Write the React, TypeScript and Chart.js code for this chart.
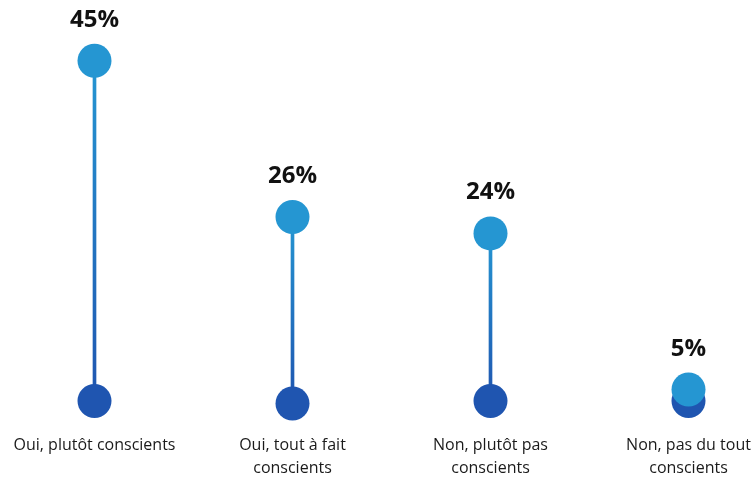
import React, { useEffect, useRef } from "react";
import { Chart, registerables } from "chart.js";

Chart.register(...registerables);

const categories: string[][] = [
  ["Oui, plutôt conscients"],
  ["Oui, tout à fait", "conscients"],
  ["Non, plutôt pas", "conscients"],
  ["Non, pas du tout", "conscients"],
];
const topValues: number[] = [45, 26, 24, 5];
const baseValues: number[] = [3.6, 3.3, 3.6, 3.6];
const valueLabels: string[] = ["45%", "26%", "24%", "5%"];

const LIGHT = "#2596D2";
const DARK = "#1F55B0";
const FONT = "'Open Sans', sans-serif";

export default function App() {
  const ref = useRef<HTMLCanvasElement | null>(null);

  useEffect(() => {
    if (!ref.current) return;

    const labelPlugin = {
      id: "valueLabels",
      afterDatasetsDraw(chart: any) {
        const meta = chart.getDatasetMeta(0);
        const ctx = chart.ctx;
        ctx.save();
        ctx.font = `bold 24px ${FONT}`;
        ctx.fillStyle = "#111111";
        ctx.textAlign = "center";
        ctx.textBaseline = "alphabetic";
        meta.data.forEach((el: any, i: number) => {
          ctx.fillText(valueLabels[i], el.x, el.y - 34);
        });
        ctx.restore();
      },
    };

    const stickColor = (c: any) => {
      const chart = c.chart;
      const y = chart.scales?.y;
      if (!y || c.dataIndex === undefined || !chart.chartArea) return LIGHT;
      const y0 = y.getPixelForValue(topValues[c.dataIndex]);
      const y1 = y.getPixelForValue(baseValues[c.dataIndex]);
      if (!isFinite(y0) || !isFinite(y1) || y0 === y1) return LIGHT;
      const g = chart.ctx.createLinearGradient(0, y0, 0, y1);
      g.addColorStop(0, LIGHT);
      g.addColorStop(1, DARK);
      return g;
    };

    const chart = new Chart(ref.current, {
      type: "bar",
      data: {
        labels: categories as any,
        datasets: [
          {
            type: "line",
            data: topValues,
            showLine: false,
            clip: false,
            pointRadius: 17,
            pointHoverRadius: 17,
            pointBackgroundColor: LIGHT,
            pointBorderWidth: 0,
            borderColor: LIGHT,
          } as any,
          {
            type: "line",
            data: baseValues,
            showLine: false,
            clip: false,
            pointRadius: 17,
            pointHoverRadius: 17,
            pointBackgroundColor: DARK,
            pointBorderWidth: 0,
            borderColor: DARK,
          } as any,
          {
            type: "bar",
            data: topValues.map((v, i) => [baseValues[i], v]) as any,
            backgroundColor: stickColor,
            barThickness: 3,
            borderWidth: 0,
            clip: false,
          } as any,
        ],
      },
      options: {
        responsive: false,
        animation: false,
        layout: { autoPadding: false, padding: { left: 94.5, right: 67.5, top: 0, bottom: 0 } },
        plugins: {
          legend: { display: false },
          tooltip: { enabled: false },
        },
        scales: {
          x: {
            offset: false,
            grid: { display: false, drawTicks: false },
            border: { display: false },
            ticks: {
              color: "#1a1a1a",
              font: { family: FONT, size: 16, lineHeight: 1.45 },
              padding: 3,
              maxRotation: 0,
              autoSkip: false,
            },
          },
          y: {
            display: false,
            min: 0,
            max: 52.4,
          },
        },
      },
      plugins: [labelPlugin],
    });

    return () => chart.destroy();
  }, []);

  return (
    <div style={{ position: "fixed", left: 0, top: 0, width: 756, height: 478, background: "#fff", overflow: "hidden" }}>
      <canvas ref={ref} width={756} height={483} style={{ display: "block" }} />
    </div>
  );
}
